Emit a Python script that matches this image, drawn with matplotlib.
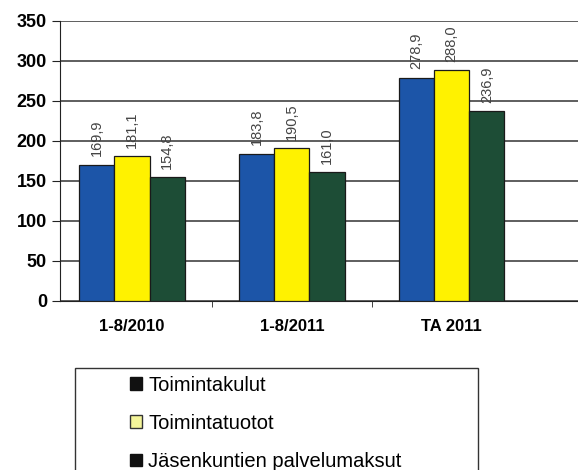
import numpy as np
import matplotlib
matplotlib.use("Agg")
import matplotlib.pyplot as plt
from matplotlib.patches import Patch, Rectangle

plt.rcParams['font.family'] = ['Liberation Sans', 'DejaVu Sans']

# Data
categories = ['1-8/2010', '1-8/2011', 'TA 2011']
series_names = ['Toimintakulut', 'Toimintatuotot', 'Jäsenkuntien palvelumaksut']
toimintakulut = [169.9, 183.8, 278.9]
toimintatuotot = [181.1, 190.5, 288.0]
palvelumaksut = [154.8, 161.0, 236.9]
colors = ['#1c55a8', '#fff200', '#1d4d36']

fig = plt.figure(figsize=(5.78, 4.70), dpi=100)
ax = fig.add_axes([0.104, 0.36, 0.896, 0.596])

x = np.arange(len(categories))
width = 0.22
all_series = [toimintakulut, toimintatuotot, palvelumaksut]

for i, (vals, col) in enumerate(zip(all_series, colors)):
    bars = ax.bar(x + (i - 1) * width, vals, width, color=col,
                  edgecolor='#1a1a1a', linewidth=0.9, zorder=3)
    for b, v in zip(bars, vals):
        ax.annotate(f'{v:.1f}'.replace('.', ','),
                    (b.get_x() + b.get_width() / 2, b.get_height()),
                    xytext=(0, 6), textcoords='offset points',
                    rotation=90, ha='center', va='bottom',
                    fontsize=10.5, color='#444444')

ax.set_ylim(0, 350)
ax.set_yticks(range(0, 351, 50))
ax.set_xlim(-0.45, 2.79)
ax.yaxis.grid(True, color='#333333', linewidth=1.1)
ax.set_axisbelow(True)

for s in ['top', 'right']:
    ax.spines[s].set_visible(False)
ax.spines['left'].set_color('#222222')
ax.spines['bottom'].set_color('#222222')

ax.set_xticks(x)
ax.set_xticklabels(categories, fontsize=12, fontweight='bold')
ax.tick_params(axis='x', length=0, pad=13)
ax.set_xticks([0.5, 1.5], minor=True)
ax.tick_params(axis='x', which='minor', length=4, color='#222222')
ax.tick_params(axis='y', labelsize=13, length=6, color='#222222')
for lbl in ax.get_yticklabels():
    lbl.set_fontweight('bold')

# Legend box (cut off at the bottom, as in the scan)
fig.patches.append(Rectangle((0.130, -0.05), 0.697, 0.267, transform=fig.transFigure,
                             fill=False, edgecolor='#333333', linewidth=1.0))
handles = [Patch(facecolor='#111111', edgecolor='#111111'),
           Patch(facecolor='#f4f59a', edgecolor='#333333'),
           Patch(facecolor='#111111', edgecolor='#111111')]
fig.legend(handles, series_names, loc='upper left', bbox_to_anchor=(0.208, 0.222),
           frameon=False, fontsize=14.5, handlelength=0.6, handleheight=0.6,
           handletextpad=0.3, labelspacing=0.95, borderpad=0)

fig.savefig('out.png', dpi=100)
